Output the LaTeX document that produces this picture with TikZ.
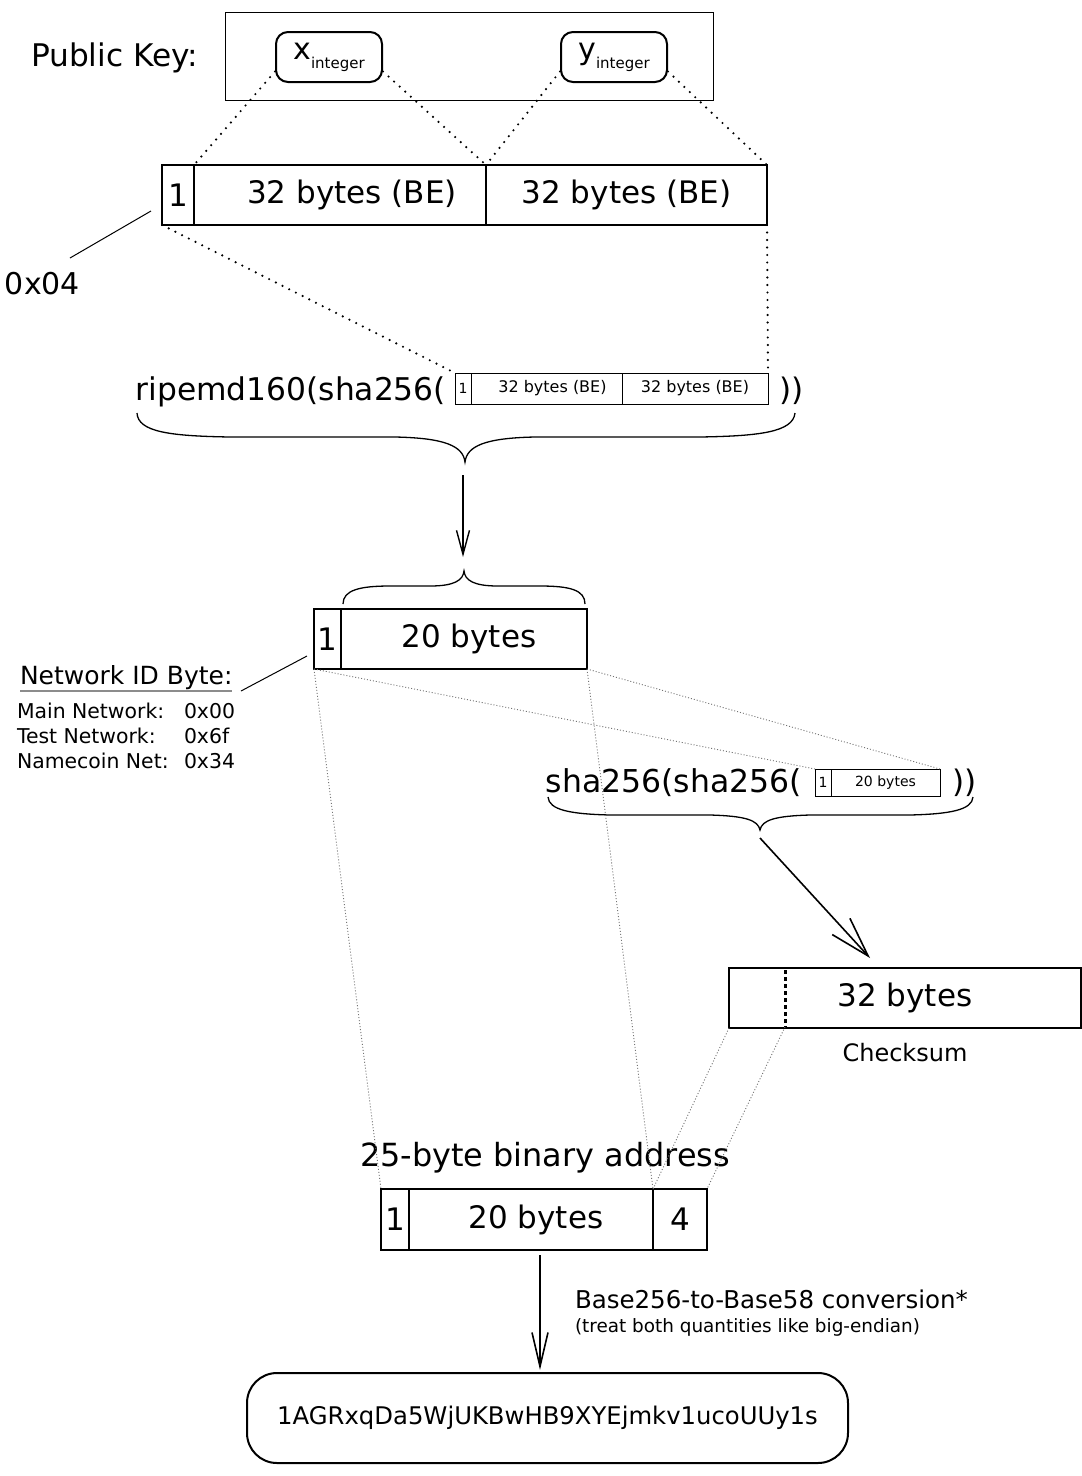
\documentclass[tikz,border=0pt]{standalone}
\usepackage{fontspec}
\setmainfont{DejaVu Sans}
\usetikzlibrary{arrows.meta}
\newcommand\fsz[1]{\fontsize{#1}{#1}\selectfont}
\begin{document}
\begin{tikzpicture}[x=1pt,y=-1pt,
  cell/.style={draw, line width=2.5pt, inner sep=0pt, outer sep=0pt, anchor=north west, minimum height=60pt, font=\fsz{31}},
  minicell/.style={draw, line width=1pt, inner sep=0pt, outer sep=0pt, anchor=north west},
  keybox/.style={draw, line width=2pt, rounded corners=12pt, minimum width=106pt, minimum height=50pt, anchor=north west, inner sep=0pt},
  bigdots/.style={line width=2.4pt, line cap=round, dash pattern=on 0pt off 7.5pt},
  finedots/.style={line width=0.9pt, black!55, dash pattern=on 1pt off 2pt},
  thinline/.style={line width=1pt},
  bracepath/.style={line width=1.3pt},
  arr/.style={line width=1.4pt, -{Straight Barb[length=24pt, width=13pt, line width=1.4pt]}},
  bigarr/.style={line width=1.6pt, -{Straight Barb[length=40pt, width=24pt, line width=1.6pt]}},
  lbl/.style={inner sep=0pt, outer sep=0pt}
]
\useasboundingbox (0,0) rectangle (1082,1476);

% ---------- public key ----------
\node[lbl, font=\fsz{31.2}, anchor=base west] (pklabel) at (31,66) {Public Key:};
\node[draw, line width=1pt, minimum width=488pt, minimum height=88pt, anchor=north west, inner sep=0pt] (pk) at (225,12) {};
\node[keybox] (xint) at (275,31) {\fsz{30}x\raisebox{-9pt}{\fsz{15}integer}};
\node[keybox] (yint) at (560,31) {\fsz{30}y\raisebox{-9pt}{\fsz{15}integer}};

% ---------- 65-byte key ----------
\node[cell, minimum width=32pt] (k1) at (162,165) {\raisebox{-4pt}{1}};
\node[cell, minimum width=292pt] (kA) at (194,165) {\hspace*{24pt}32 bytes (BE)};
\node[cell, minimum width=281pt] (kB) at (486,165) {32 bytes (BE)};

\draw[bigdots] (xint.195) -- (k1.north east);
\draw[bigdots] (xint.-15) -- (kA.north east);
\draw[bigdots] (yint.195) -- (kA.north east);
\draw[bigdots] (yint.-15) -- (kB.north east);

\node[lbl, font=\fsz{30}, anchor=base west] (n04) at (5,294) {0x04};
\coordinate (c04a) at (70,258);
\coordinate (c04b) at (151,211);
\draw[thinline] (c04a) -- (c04b);

% ---------- ripemd160 ----------
\node[minicell, minimum width=16pt, minimum height=31pt, font=\fsz{14}] (m1) at (455,373) {1};
\node[minicell, minimum width=151pt, minimum height=31pt, font=\fsz{16}] (mA) at (471,373) {\hspace*{12pt}32 bytes (BE)};
\node[minicell, minimum width=146pt, minimum height=31pt, font=\fsz{16}] (mB) at (622,373) {32 bytes (BE)};
\node[lbl, font=\fsz{31.3}, anchor=base east] (ripe) at (446,400) {ripemd160(sha256(};
\node[lbl, font=\fsz{31}, anchor=base west] (ripeclose) at (779,400) {))};

\draw[bigdots] (k1.south west) -- (m1.north west);
\draw[bigdots] (kB.south east) -- (mB.north east);

\draw[bracepath] (137,413) .. controls (138,432) and (170,436) .. (230,437) -- (395,437)
  .. controls (445,438) and (463,446) .. (465,462)
  .. controls (467,446) and (485,438) .. (535,437) -- (700,437)
  .. controls (760,436) and (793,432) .. (795,413);

\coordinate (a1s) at (463,475);
\coordinate (a1e) at (463,557);
\draw[arr] (a1s) -- (a1e);

\draw[bracepath] (343,604) .. controls (343,590) and (360,586) .. (390,586) -- (430,586)
  .. controls (455,586) and (463,580) .. (464,571)
  .. controls (465,580) and (473,586) .. (498,586) -- (540,586)
  .. controls (570,586) and (585,590) .. (585,604);

% ---------- 21-byte ----------
\node[cell, minimum width=27pt] (h1) at (314,609) {\raisebox{-4pt}{1}};
\node[cell, minimum width=246pt] (h20) at (341,609) {\hspace*{10pt}20 bytes};

\node[lbl, font=\fsz{25}, anchor=base west] (netid) at (20,684) {Network ID Byte:};
\draw[line width=1.5pt, black!45] (netid.south west) ++(0,2) coordinate (ulA) -- ([yshift=-2pt]netid.south east);
\coordinate (netA) at (241,691);
\coordinate (netB) at (307,656);
\draw[thinline] (netA) -- (netB);
\node[lbl, font=\fsz{20.4}, anchor=base west] (mainnet) at (17,718) {Main Network:};
\node[lbl, font=\fsz{20.4}, anchor=base west] (testnet) at (17,743) {Test Network:};
\node[lbl, font=\fsz{20.4}, anchor=base west] (namenet) at (17,768) {Namecoin Net:};
\node[lbl, font=\fsz{20.4}, anchor=base west] (mainv) at (184,718) {0x00};
\node[lbl, font=\fsz{20.4}, anchor=base west] (testv) at (184,743) {0x6f};
\node[lbl, font=\fsz{20.4}, anchor=base west] (namev) at (184,768) {0x34};

% ---------- sha256(sha256( ----------
\node[minicell, minimum width=16pt, minimum height=27pt, font=\fsz{14}] (s1) at (815,769) {1};
\node[minicell, minimum width=109pt, minimum height=27pt, font=\fsz{14}] (s20) at (831,769) {20 bytes};
\node[lbl, font=\fsz{31.5}, anchor=base east] (shash) at (802,792) {sha256(sha256(};
\node[lbl, font=\fsz{31}, anchor=base west] (shclose) at (952,792) {))};

\draw[finedots] (h1.south west) -- (s1.north west);
\draw[finedots] (h20.south east) -- (s20.north east);

\draw[bracepath] (548,797) .. controls (549,810) and (570,814) .. (610,815) -- (710,815)
  .. controls (745,816) and (758,820) .. (760,830)
  .. controls (762,820) and (775,816) .. (810,815) -- (910,815)
  .. controls (950,814) and (972,810) .. (973,797);

\coordinate (a2s) at (760,838);
\coordinate (a2e) at (870,958);
\draw[bigarr] (a2s) -- (a2e);

% ---------- checksum ----------
\node[cell, minimum width=352pt] (cs) at (729,968) {32 bytes};
\coordinate (csdT) at (785,970);
\coordinate (csdB) at (785,1027);
\draw[line width=3pt, dash pattern=on 3.5pt off 3.5pt] (csdT) -- (csdB);
\node[lbl, font=\fsz{24}] (cslabel) at (905,1053) {Checksum};

% ---------- 25-byte address ----------
\node[lbl, font=\fsz{31.9}] (addrlabel) at (545,1158) {25-byte binary address};
\node[cell, minimum width=28pt, minimum height=61pt] (b1) at (381,1189) {\raisebox{-4pt}{1}};
\node[cell, minimum width=244pt, minimum height=61pt] (b20) at (409,1189) {\raisebox{2pt}{\hspace*{10pt}20 bytes}};
\node[cell, minimum width=54pt, minimum height=61pt] (b4) at (653,1189) {4};

\draw[finedots] (h1.south west) -- (b1.north west);
\draw[finedots] (h20.south east) -- (b20.north east);
\draw[finedots] (cs.south west) -- (b20.north east);
\draw[finedots] (csdB) -- (b4.north east);

\coordinate (a3s) at (540,1255);
\coordinate (a3e) at (540,1370);
\draw[line width=1.6pt, -{Straight Barb[length=34pt, width=16pt, line width=1.6pt]}] (a3s) -- (a3e);

\node[lbl, font=\fsz{24.5}, anchor=base west] (conv) at (575,1308) {Base256-to-Base58 conversion*};
\node[lbl, font=\fsz{18.4}, anchor=base west] (convnote) at (575,1332) {(treat both quantities like big-endian)};

\node[draw, line width=2pt, rounded corners=30pt, minimum width=601pt, minimum height=90pt, anchor=north west, inner sep=0pt, font=\fsz{24.3}] (final) at (246,1372) {1AGRxqDa5WjUKBwHB9XYEjmkv1ucoUUy1s};
\end{tikzpicture}
\end{document}
